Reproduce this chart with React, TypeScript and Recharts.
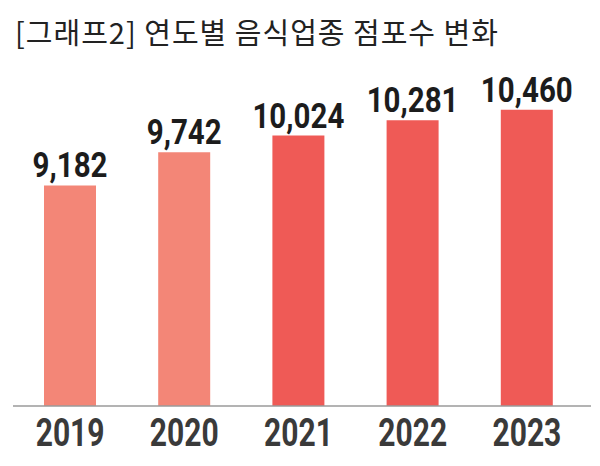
import { BarChart, Bar, XAxis, YAxis, Cell, LabelList } from "recharts";

const years = ["2019", "2020", "2021", "2022", "2023"];
const storeCounts = [9182, 9742, 10024, 10281, 10460];
const barColors = ["#F38677", "#F38677", "#EF5A56", "#EF5A56", "#EF5A56"];
const title = "[그래프2] 연도별 음식업종 점포수 변화";

const data = years.map((year, i) => ({ year, count: storeCounts[i] }));

const numFont = "Roboto, sans-serif";

// the reference digits are a condensed bold face, so squeeze Roboto horizontally
const YearTick = (props: any) => {
  const { x, y, payload } = props;
  return (
    <text
      transform={`translate(${x},${y}) scale(0.79,1)`}
      textAnchor="middle"
      dy="0.71em"
      fill="#3a3a3a"
      fontSize={38}
      fontWeight={700}
      fontFamily={numFont}
    >
      {payload.value}
    </text>
  );
};

const ValueLabel = (props: any) => {
  const { x, y, width, value } = props;
  const cx = Number(x) + Number(width) / 2;
  return (
    <text
      transform={`translate(${cx},${Number(y) - 8}) scale(0.82,1)`}
      textAnchor="middle"
      fill="#1c1c1c"
      fontSize={36}
      fontWeight={700}
      fontFamily={numFont}
    >
      {Number(value).toLocaleString("en-US")}
    </text>
  );
};

export default function App() {
  return (
    <div style={{ position: "relative", width: 600, height: 466, background: "#fff" }}>
      <style>{"body{margin:0}"}</style>
      <div
        style={{
          position: "absolute",
          left: 15,
          top: 17,
          fontFamily: "'Noto Sans CJK KR', sans-serif",
          fontSize: 29,
          lineHeight: "29px",
          letterSpacing: 1,
          color: "#222",
          whiteSpace: "nowrap",
        }}
      >
        {title}
      </div>
      <BarChart
        width={600}
        height={466}
        data={data}
        margin={{ top: 60, right: 9, left: 13, bottom: 0 }}
      >
        <XAxis
          dataKey="year"
          height={60}
          padding={{ left: 0, right: 7 }}
          axisLine={{ stroke: "#9a9a9a", strokeWidth: 1.5 }}
          tickLine={false}
          tickSize={6}
          tickMargin={7}
          tick={<YearTick />}
        />
        <YAxis hide domain={[5460, 11300]} />
        <Bar dataKey="count" barSize={52} isAnimationActive={false}>
          {data.map((d, i) => (
            <Cell key={d.year} fill={barColors[i]} />
          ))}
          <LabelList dataKey="count" position="top" content={<ValueLabel />} />
        </Bar>
      </BarChart>
    </div>
  );
}
